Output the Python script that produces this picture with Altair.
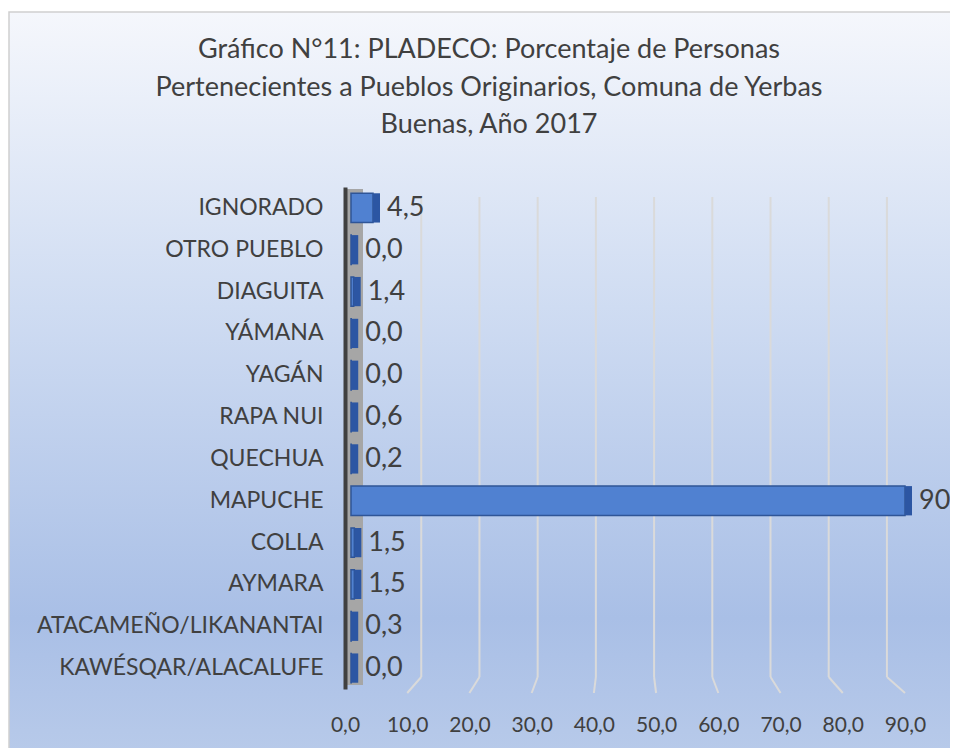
import altair as alt
import pandas as pd

# ---------------- data ----------------
categories = [
    "IGNORADO", "OTRO PUEBLO", "DIAGUITA", "YÁMANA", "YAGÁN", "RAPA NUI",
    "QUECHUA", "MAPUCHE", "COLLA", "AYMARA", "ATACAMEÑO/LIKANANTAI",
    "KAWÉSQAR/ALACALUFE",
]
values = [4.5, 0.0, 1.4, 0.0, 0.0, 0.6, 0.2, 90, 1.5, 1.5, 0.3, 0.0]
labels = ["4,5", "0,0", "1,4", "0,0", "0,0", "0,6", "0,2", "90", "1,5", "1,5", "0,3", "0,0"]
ticks = [0, 10, 20, 30, 40, 50, 60, 70, 80, 90]
title_lines = [
    "Gráfico N°11: PLADECO: Porcentaje de Personas",
    "Pertenecientes a Pueblos Originarios, Comuna de Yerbas",
    "Buenas, Año 2017",
]

# ---------------- style ----------------
FONT = "Lato"
TEXT = "#404040"
W, H = 560, 502
PAD = {"left": 337, "top": 179, "right": 45, "bottom": 59}

df = pd.DataFrame({"cat": categories, "value": values, "label": labels})
grid_df = pd.DataFrame({"t": ticks[1:]})
one = pd.DataFrame({"k": [0]})

xscale = alt.Scale(domain=[0, 90], nice=False, zero=False)
yscale = alt.Scale(domain=categories, paddingInner=0.3, paddingOuter=0.15)

x_axis = alt.Axis(
    values=ticks,
    labelExpr="replace(format(datum.value, '.1f'), '.', ',')",
    domain=False, ticks=False, grid=False, title=None,
    labelFontSize=21, labelFont=FONT, labelColor=TEXT,
    labelPadding=25, labelFlush=False, labelOverlap=False, zindex=1,
)
y_axis = alt.Axis(
    title=None, domain=True, domainColor="#404040", domainWidth=4,
    ticks=False, labelFontSize=23, labelFont=FONT, labelColor=TEXT,
    labelPadding=22, labelLimit=400, zindex=1,
)

bg = alt.Chart(one).mark_rect(
    color=alt.LinearGradient(
        gradient="linear", x1=0, x2=0, y1=0, y2=1,
        stops=[
            alt.GradientStop(offset=0, color="#f5f7fc"),
            alt.GradientStop(offset=0.39, color="#cfdcf2"),
            alt.GradientStop(offset=0.8, color="#a9bfe6"),
            alt.GradientStop(offset=1, color="#b9cbea"),
        ],
    ),
    stroke="#cfcfcf",
    strokeWidth=1.5,
).encode(
    x=alt.value(-336), x2=alt.value(W + 80),
    y=alt.value(-175), y2=alt.value(H + 80),
)

title = alt.Chart(one).mark_text(
    fontSize=27, font=FONT, color=TEXT, align="center", baseline="middle",
    lineHeight=37.5,
).encode(
    x=alt.value(489 - 345), y=alt.value(50 - 187), text=alt.value(title_lines)
)

wall = alt.Chart(one).mark_rect(color="#a6a6a6").encode(
    x=alt.value(0), x2=alt.value(18), y=alt.value(2), y2=alt.value(498)
)

grid = alt.Chart(grid_df).transform_calculate(
    back="2.9 + 0.9355 * datum.t"
).mark_rule(color="#dadada", strokeWidth=2).encode(
    x=alt.X("back:Q", scale=xscale, axis=x_axis),
    y=alt.value(10), y2=alt.value(490),
)

slant = alt.Chart(grid_df).transform_calculate(
    back="2.9 + 0.9355 * datum.t"
).mark_rule(color="#dadada", strokeWidth=2).encode(
    x=alt.X("back:Q", scale=xscale, axis=x_axis),
    x2=alt.X2("t:Q"),
    y=alt.value(490), y2=alt.value(506),
)

base = alt.Chart(df).transform_calculate(
    end="max(datum.value, 1.0)", zero="0"
)

front = base.mark_bar(
    xOffset=6, color="#5081d1", stroke="#2f5597", strokeWidth=1.5
).encode(
    x=alt.X("zero:Q", scale=xscale, axis=x_axis),
    x2=alt.X2("end:Q"),
    y=alt.Y("cat:N", scale=yscale, sort=categories, axis=y_axis),
)

side = base.mark_bar(x2Offset=7, color="#2c56a3").encode(
    x=alt.X("end:Q", scale=xscale, axis=x_axis),
    x2=alt.X2("end:Q"),
    y=alt.Y("cat:N", scale=yscale, sort=categories, axis=y_axis),
)

text = base.mark_text(
    align="left", baseline="middle", dx=14, fontSize=27, font=FONT, color=TEXT
).encode(
    x=alt.X("end:Q", scale=xscale, axis=x_axis),
    y=alt.Y("cat:N", scale=yscale, sort=categories, axis=y_axis),
    text="label:N",
)

chart = alt.layer(bg, title, wall, grid, slant, front, side, text).properties(
    width=W,
    height=H,
    padding=PAD,
    autosize=alt.AutoSizeParams(type="none"),
    background="white",
).configure_view(strokeWidth=0)

chart.save("out.html", embed_options={"renderer": "svg", "actions": False})
